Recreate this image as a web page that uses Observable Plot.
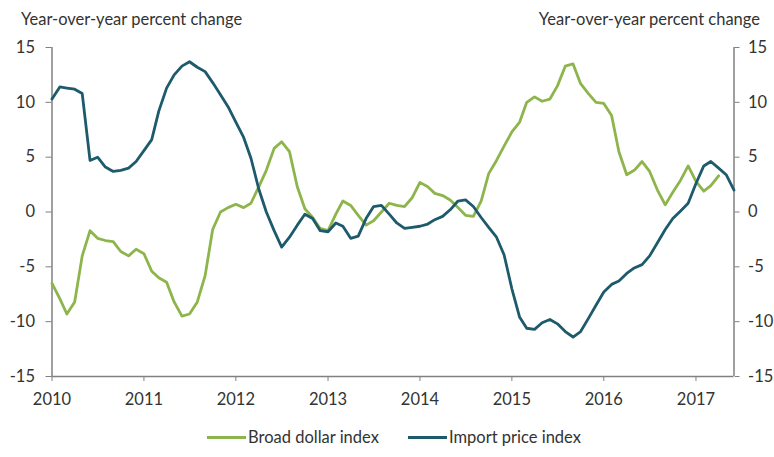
<!DOCTYPE html>
<html>
<head>
<meta charset="utf-8">
<script src="https://cdn.jsdelivr.net/npm/d3@7"></script>
<script src="https://cdn.jsdelivr.net/npm/@observablehq/plot@0.6"></script>
<style>
  html, body { margin: 0; padding: 0; background: #fff; }
  #wrap { position: relative; width: 774px; height: 457px; font-family: Lato, "Open Sans", sans-serif; color: #333; }
  .title { position: absolute; top: 9px; font-size: 16.5px; line-height: 20px; white-space: nowrap; }
  #chart { position: absolute; left: 0; top: 30px; }
  .leg { position: absolute; top: 427px; height: 20px; display: flex; align-items: center; font-size: 16.5px; white-space: nowrap; }
  .sw { width: 39px; height: 3px; margin-right: 2px; }
</style>
</head>
<body>
<div id="wrap">
  <div class="title" id="tl" style="left:21px">Year-over-year percent change</div>
  <div class="title" id="tr" style="right:14px">Year-over-year percent change</div>
  <div id="chart"></div>
  <div class="leg" style="left:207px"><div class="sw" id="sw0"></div><span id="lg0"></span></div>
  <div class="leg" style="left:408px"><div class="sw" id="sw1"></div><span id="lg1"></span></div>
</div>
<script>
const seriesNames = ["Broad dollar index", "Import price index"];
const seriesColors = ["#8db54b", "#1d5a6c"];
const startMonth = "2010-01-01";
const yTicks = [-15, -10, -5, 0, 5, 10, 15];
const xTickYears = [2010, 2011, 2012, 2013, 2014, 2015, 2016, 2017];

// Broad dollar index, monthly from Jan 2010
const broadDollar = [
  -6.5, -7.9, -9.3, -8.2, -4.0, -1.7, -2.4, -2.6, -2.7, -3.6, -4.0, -3.4,
  -3.8, -5.4, -6.0, -6.4, -8.2, -9.5, -9.3, -8.2, -5.8, -1.6, 0.0, 0.4,
  0.7, 0.4, 0.8, 2.3, 3.8, 5.8, 6.4, 5.5, 2.3, 0.3, -0.5, -1.5,
  -1.7, -0.2, 1.0, 0.6, -0.3, -1.2, -0.8, 0.0, 0.8, 0.6, 0.5, 1.3,
  2.7, 2.3, 1.7, 1.5, 1.1, 0.4, -0.3, -0.4, 1.0, 3.5, 4.7, 6.0,
  7.3, 8.2, 10.0, 10.5, 10.1, 10.3, 11.5, 13.3, 13.5, 11.7, 10.8, 10.0,
  9.9, 8.8, 5.5, 3.4, 3.8, 4.6, 3.7, 2.0, 0.65, 1.8, 2.9, 4.2,
  2.8, 1.9, 2.4, 3.3
];

// Import price index, monthly from Jan 2010
const importPrice = [
  10.3, 11.4, 11.3, 11.2, 10.8, 4.7, 5.0, 4.1, 3.7, 3.8, 4.0, 4.6,
  5.6, 6.6, 9.2, 11.3, 12.5, 13.3, 13.7, 13.2, 12.8, 11.8, 10.7, 9.6,
  8.2, 6.8, 4.9, 2.1, 0.0, -1.7, -3.2, -2.3, -1.2, -0.2, -0.6, -1.7,
  -1.8, -1.0, -1.3, -2.4, -2.2, -0.6, 0.5, 0.6, -0.2, -1.0, -1.5, -1.4,
  -1.3, -1.1, -0.7, -0.4, 0.2, 1.0, 1.1, 0.5, -0.5, -1.4, -2.3, -3.9,
  -7.0, -9.6, -10.6, -10.7, -10.1, -9.8, -10.2, -10.9, -11.4, -10.9, -9.7, -8.5,
  -7.3, -6.6, -6.3, -5.6, -5.1, -4.8, -4.0, -2.8, -1.6, -0.6, 0.1, 0.8,
  2.6, 4.2, 4.6, 4.0, 3.4, 2.0
];

const t0 = new Date(startMonth);
const monthAt = i => d3.utcMonth.offset(t0, i);
const rows = [];
broadDollar.forEach((v, i) => rows.push({date: monthAt(i), value: v, series: seriesNames[0]}));
importPrice.forEach((v, i) => rows.push({date: monthAt(i), value: v, series: seriesNames[1]}));

const xDomain = [t0, monthAt(importPrice.length - 1)];
const xTicks = xTickYears.map(y => new Date(Date.UTC(y, 0, 1)));
const axisGray = "#808080";

const chart = Plot.plot({
  width: 774,
  height: 380,
  marginLeft: 51.5,
  marginRight: 40.5,
  marginTop: 17,
  marginBottom: 34,
  style: {fontFamily: "Lato, 'Open Sans', sans-serif", fontSize: "16.5px", color: "#333", background: "#fff"},
  x: {type: "utc", domain: xDomain},
  y: {domain: [-15, 15]},
  color: {domain: seriesNames, range: seriesColors},
  marks: [
    Plot.ruleX([xDomain[0]], {stroke: axisGray, strokeWidth: 1.5}),
    Plot.ruleX([xDomain[1]], {stroke: axisGray, strokeWidth: 1.5}),
    Plot.ruleY([-15], {stroke: axisGray, strokeWidth: 1.5}),
    Plot.axisY({anchor: "left", ticks: yTicks, tickSize: 6, tickPadding: 11, stroke: axisGray, fill: "#333", label: null, tickFormat: d => String(d)}),
    Plot.axisY({anchor: "right", ticks: yTicks, tickSize: 5, tickPadding: 9, stroke: axisGray, fill: "#333", label: null, tickFormat: d => String(d)}),
    Plot.axisX({anchor: "bottom", ticks: xTicks, tickSize: 5, tickPadding: 12, stroke: axisGray, fill: "#333", label: null, tickFormat: d3.utcFormat("%Y")}),
    Plot.line(rows, {x: "date", y: "value", z: "series", stroke: "series", strokeWidth: 2.8, strokeLinejoin: "round", strokeLinecap: "round"})
  ]
});
document.getElementById("chart").appendChild(chart);
seriesNames.forEach((n, i) => {
  document.getElementById("lg" + i).textContent = n;
  document.getElementById("sw" + i).style.background = seriesColors[i];
});
</script>
</body>
</html>
